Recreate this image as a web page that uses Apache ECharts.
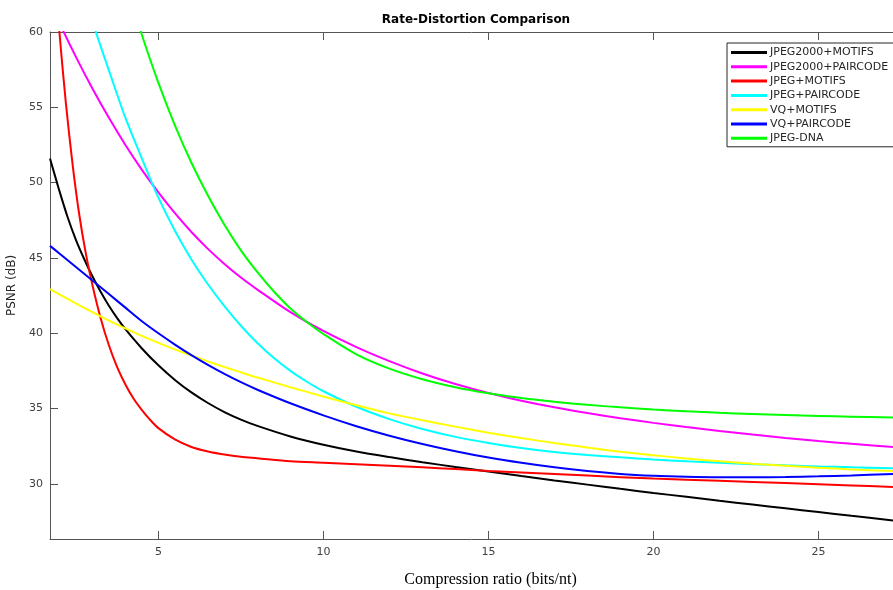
<!DOCTYPE html>
<html>
<head>
<meta charset="utf-8">
<title>Rate-Distortion Comparison</title>
<script src="https://cdn.jsdelivr.net/npm/echarts@6/dist/echarts.min.js"></script>
<style>
  html, body { margin: 0; padding: 0; background: #ffffff; }
  #chart { width: 893px; height: 590px; }
</style>
</head>
<body>
<div id="chart"></div>
<script>
// Rate-distortion curves: [compression ratio (bits/nt), PSNR (dB)]
const seriesNames = [
  'JPEG2000+MOTIFS', 'JPEG2000+PAIRCODE', 'JPEG+MOTIFS', 'JPEG+PAIRCODE',
  'VQ+MOTIFS', 'VQ+PAIRCODE', 'JPEG-DNA'
];
const seriesColors = ['#000000', '#ff00ff', '#ff0000', '#00ffff', '#ffff00', '#0000ff', '#00ff00'];

const jpeg2000Motifs = [
  [1.715, 51.6], [2, 49.45], [2.25, 47.7], [2.5, 46.2], [2.75, 44.93], [3, 43.78], [3.25, 42.75],
  [3.5, 41.82], [3.75, 41.0], [4, 40.27], [4.5, 38.99], [5, 37.87], [5.5, 36.9], [6, 36.07],
  [6.5, 35.37], [7, 34.77], [7.5, 34.27], [8, 33.85], [9, 33.15], [10, 32.6], [11, 32.15],
  [12, 31.78], [13, 31.44], [14, 31.12], [15, 30.82], [16, 30.52], [17, 30.23], [18, 29.95],
  [19, 29.67], [20, 29.4], [21, 29.14], [22, 28.88], [23, 28.63], [24, 28.38], [25, 28.13],
  [26, 27.88], [27.26, 27.57]
];
const jpeg2000Paircode = [
  [1.715, 61.95], [2, 60.6], [2.5, 58.35], [3, 56.25], [3.5, 54.3], [4, 52.5], [4.5, 50.85],
  [5, 49.35], [5.5, 47.97], [6, 46.72], [6.5, 45.6], [7, 44.6], [7.5, 43.7], [8, 42.9],
  [9, 41.4], [10, 40.15], [11, 39.08], [12, 38.15], [13, 37.33], [14, 36.63], [15, 36.03],
  [16, 35.52], [17, 35.08], [18, 34.7], [19, 34.36], [20, 34.05], [21, 33.77], [22, 33.51],
  [23, 33.27], [24, 33.05], [25, 32.85], [26, 32.66], [27.26, 32.44]
];
const jpegMotifs = [
  [1.715, 68.0], [2, 60.0], [2.2, 55.2], [2.4, 51.2], [2.6, 47.9], [2.8, 45.3], [3, 43.2],
  [3.25, 41.0], [3.5, 39.2], [3.75, 37.75], [4, 36.6], [4.25, 35.65], [4.5, 34.9], [4.75, 34.25],
  [5, 33.7], [5.5, 32.95], [6, 32.45], [6.5, 32.15], [7, 31.95], [7.5, 31.8], [8, 31.7],
  [9, 31.5], [10, 31.4], [11, 31.3], [12, 31.2], [13, 31.1], [14, 30.98], [15, 30.85],
  [16, 30.75], [18, 30.55], [20, 30.35], [22, 30.2], [24, 30.05], [26, 29.9], [27.26, 29.8]
];
const jpegPaircode = [
  [2.5, 64.2], [2.75, 62.4], [3, 60.7], [3.25, 59.05], [3.5, 57.45], [3.75, 55.85], [4, 54.3],
  [4.5, 51.6], [5, 49.0], [5.5, 46.8], [6, 44.9], [6.5, 43.25], [7, 41.8], [7.5, 40.5],
  [8, 39.35], [8.5, 38.35], [9, 37.5], [9.5, 36.78], [10, 36.15], [11, 35.12], [12, 34.3],
  [13, 33.64], [14, 33.12], [15, 32.72], [16, 32.38], [17, 32.12], [18, 31.92], [19, 31.76],
  [20, 31.62], [21, 31.5], [22, 31.4], [23, 31.31], [24, 31.23], [25, 31.16], [26, 31.1],
  [27.26, 31.04]
];
const vqMotifs = [
  [1.715, 42.93], [2, 42.58], [2.5, 41.98], [3, 41.4], [3.5, 40.84], [4, 40.32], [4.5, 39.82],
  [5, 39.36], [5.5, 38.93], [6, 38.52], [6.5, 38.13], [7, 37.76], [7.5, 37.41], [8, 37.06],
  [9, 36.42], [10, 35.8], [11, 35.22], [12, 34.68], [13, 34.22], [14, 33.8], [15, 33.4],
  [16, 33.04], [17, 32.71], [18, 32.41], [19, 32.14], [20, 31.9], [21, 31.69], [22, 31.5],
  [23, 31.34], [24, 31.2], [25, 31.07], [26, 30.96], [27.26, 30.85]
];
const vqPaircode = [
  [1.715, 45.8], [2, 45.3], [2.5, 44.4], [3, 43.5], [3.5, 42.6], [4, 41.7], [4.5, 40.8],
  [5, 40.0], [5.5, 39.25], [6, 38.55], [6.5, 37.9], [7, 37.3], [7.5, 36.75], [8, 36.25],
  [9, 35.35], [10, 34.55], [11, 33.83], [12, 33.2], [13, 32.65], [14, 32.17], [15, 31.75],
  [16, 31.4], [17, 31.1], [18, 30.85], [19, 30.66], [20, 30.54], [21, 30.47], [22, 30.44],
  [23, 30.44], [24, 30.46], [25, 30.5], [26, 30.56], [27.26, 30.66]
];
const jpegDna = [
  [4, 63.45], [4.25, 61.6], [4.5, 59.8], [5, 56.62], [5.5, 53.8], [6, 51.32], [6.5, 49.14],
  [7, 47.2], [7.5, 45.5], [8, 44.05], [8.5, 42.77], [9, 41.65], [9.5, 40.75], [10, 39.95],
  [11, 38.6], [12, 37.65], [13, 36.95], [14, 36.42], [15, 36.02], [16, 35.7], [17, 35.45],
  [18, 35.25], [19, 35.08], [20, 34.94], [21, 34.82], [22, 34.72], [23, 34.64], [24, 34.57],
  [25, 34.51], [26, 34.46], [27.26, 34.41]
];
const seriesData = [jpeg2000Motifs, jpeg2000Paircode, jpegMotifs, jpegPaircode, vqMotifs, vqPaircode, jpegDna];

// Axis ranges and tick positions
const xRange = [1.715, 27.26];
const yRange = [26.34, 60];
const xTicks = [5, 10, 15, 20, 25];
const yTicks = [30, 35, 40, 45, 50, 55, 60];

const axisColor = '#555555';
const labelColor = '#404040';

const chart = echarts.init(document.getElementById('chart'), null, { renderer: 'canvas' });

chart.setOption({
  animation: false,
  backgroundColor: '#ffffff',
  title: {
    text: 'Rate-Distortion Comparison',
    left: 476,
    top: 14,
    textAlign: 'center',
    padding: 0,
    textStyle: { fontFamily: 'DejaVu Sans', fontSize: 12, fontWeight: 'bold', color: '#000000' }
  },
  // fixed plot rectangle; axis names are allowed to sit close to the canvas edge
  grid: { left: 50, right: 0, top: 32, bottom: 51, containLabel: false, outerBoundsMode: 'none' },
  legend: {
    orient: 'vertical',
    left: 727,
    top: 43,
    padding: [4, 30, 3, 4],
    itemGap: 3.3,
    itemWidth: 36,
    itemHeight: 3,
    icon: 'rect',
    backgroundColor: '#ffffff',
    borderColor: '#262626',
    borderWidth: 1,
    borderRadius: 0,
    textStyle: { fontFamily: 'DejaVu Sans', fontSize: 11, lineHeight: 11, color: '#262626', padding: [0, 0, 0, -2] },
    data: seriesNames
  },
  xAxis: [
    {
      type: 'value',
      min: xRange[0],
      max: xRange[1],
      position: 'bottom',
      name: 'Compression ratio (bits/nt)',
      nameLocation: 'middle',
      nameGap: 33,
      nameTextStyle: { fontFamily: 'Liberation Serif', fontSize: 16, color: '#000000', padding: [0, 0, 0, 38] },
      axisLine: { show: true, lineStyle: { color: axisColor, width: 1 } },
      axisTick: { show: true, inside: true, length: 8, customValues: xTicks, lineStyle: { color: axisColor } },
      axisLabel: { show: true, customValues: xTicks, margin: 8, fontFamily: 'DejaVu Sans', fontSize: 11, color: labelColor },
      splitLine: { show: false }
    },
    {
      type: 'value',
      min: xRange[0],
      max: xRange[1],
      position: 'top',
      axisLine: { show: true, lineStyle: { color: axisColor, width: 1 } },
      axisTick: { show: true, inside: true, length: 8, customValues: xTicks, lineStyle: { color: axisColor } },
      axisLabel: { show: false },
      splitLine: { show: false }
    }
  ],
  yAxis: {
    type: 'value',
    min: yRange[0],
    max: yRange[1],
    name: 'PSNR (dB)',
    nameLocation: 'middle',
    nameGap: 25,
    nameTextStyle: { fontFamily: 'DejaVu Sans', fontSize: 12, color: '#262626' },
    axisLine: { show: true, lineStyle: { color: axisColor, width: 1 } },
    axisTick: { show: true, inside: true, length: 8, customValues: yTicks, lineStyle: { color: axisColor } },
    axisLabel: { show: true, customValues: yTicks, margin: 7, fontFamily: 'DejaVu Sans', fontSize: 11, color: labelColor },
    splitLine: { show: false }
  },
  series: seriesNames.map((name, i) => ({
    name,
    type: 'line',
    xAxisIndex: 0,
    data: seriesData[i],
    showSymbol: false,
    symbol: 'none',
    smooth: 0.3,
    clip: true,
    color: seriesColors[i],
    lineStyle: { color: seriesColors[i], width: 2 }
  }))
});
</script>
</body>
</html>
